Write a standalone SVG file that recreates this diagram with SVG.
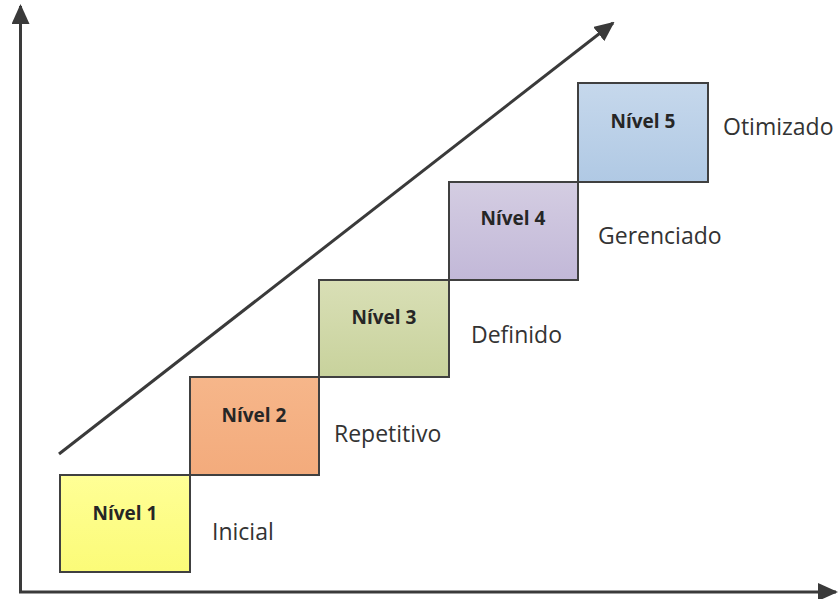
<svg xmlns="http://www.w3.org/2000/svg" width="840" height="599" viewBox="0 0 840 599">
  <defs>
    <marker id="head" viewBox="0 0 20 18" refX="18" refY="9" markerWidth="20" markerHeight="18" markerUnits="userSpaceOnUse" orient="auto">
      <path d="M0,0 L20,9 L0,18 Z" fill="#3a3a3a"/>
    </marker>
    <linearGradient id="g1" x1="0" y1="0" x2="0" y2="1">
      <stop offset="0" stop-color="#ffff96"/>
      <stop offset="1" stop-color="#fbfb78"/>
    </linearGradient>
    <linearGradient id="g2" x1="0" y1="0" x2="0" y2="1">
      <stop offset="0" stop-color="#f6b68a"/>
      <stop offset="1" stop-color="#f3ab7c"/>
    </linearGradient>
    <linearGradient id="g3" x1="0" y1="0" x2="0" y2="1">
      <stop offset="0" stop-color="#d9dfb6"/>
      <stop offset="1" stop-color="#c8d29c"/>
    </linearGradient>
    <linearGradient id="g4" x1="0" y1="0" x2="0" y2="1">
      <stop offset="0" stop-color="#d4cde2"/>
      <stop offset="1" stop-color="#c2b8d8"/>
    </linearGradient>
    <linearGradient id="g5" x1="0" y1="0" x2="0" y2="1">
      <stop offset="0" stop-color="#c6d8ec"/>
      <stop offset="1" stop-color="#b0c9e4"/>
    </linearGradient>
  </defs>
  <style>
    .box { stroke: #404040; stroke-width: 2; }
    .lvl { font-family: "Open Sans", "Liberation Sans", sans-serif; font-weight: bold; font-size: 19px; fill: #262626; text-anchor: middle; }
    .lbl { font-family: "Open Sans", "Liberation Sans", sans-serif; font-size: 23px; fill: #333333; }
    .ax { stroke: #3a3a3a; stroke-width: 3; fill: none; marker-end: url(#head); }
  </style>
  <rect width="840" height="599" fill="#ffffff"/>

  <!-- axes and trend arrow -->
  <g id="connectors">
    <path class="ax" d="M20.5,592 L20.5,6"/>
    <path class="ax" d="M19,592 L836,592"/>
    <path class="ax" d="M59,454 L613,23"/>
  </g>

  <!-- maturity levels -->
  <g id="nivel1">
    <rect class="box" x="60" y="475" width="130" height="97" fill="url(#g1)"/>
    <text class="lvl" x="125" y="520">Nível 1</text>
  </g>
  <g id="nivel2">
    <rect class="box" x="190" y="377" width="129" height="98" fill="url(#g2)"/>
    <text class="lvl" x="254" y="422">Nível 2</text>
  </g>
  <g id="nivel3">
    <rect class="box" x="319" y="280" width="130" height="97" fill="url(#g3)"/>
    <text class="lvl" x="384" y="324">Nível 3</text>
  </g>
  <g id="nivel4">
    <rect class="box" x="449" y="182" width="129" height="98" fill="url(#g4)"/>
    <text class="lvl" x="513" y="225">Nível 4</text>
  </g>
  <g id="nivel5">
    <rect class="box" x="578" y="83" width="130" height="99" fill="url(#g5)"/>
    <text class="lvl" x="643" y="128">Nível 5</text>
  </g>

  <!-- level names -->
  <g id="labels">
    <text class="lbl" x="212" y="540">Inicial</text>
    <text class="lbl" x="334" y="442">Repetitivo</text>
    <text class="lbl" x="471" y="343">Definido</text>
    <text class="lbl" x="598" y="244">Gerenciado</text>
    <text class="lbl" x="723" y="135">Otimizado</text>
  </g>
</svg>
